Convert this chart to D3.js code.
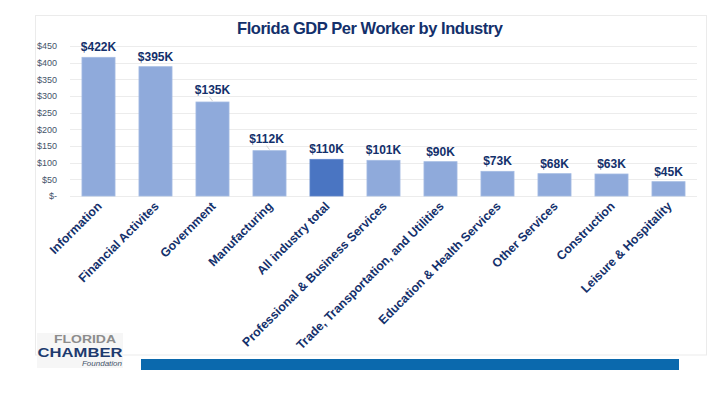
<!DOCTYPE html>
<html>
<head>
<meta charset="utf-8">
<script src="https://cdn.jsdelivr.net/npm/d3@7"></script>
<style>
  body { margin: 0; background: #fff; }
  svg { display: block; font-family: "Liberation Sans", Arial, sans-serif; }
</style>
</head>
<body>
<svg id="chart"></svg>
<script>
// chart data
var industries = ["Information", "Financial Activites", "Government", "Manufacturing",
                  "All industry total", "Professional & Business Services",
                  "Trade, Transportation, and Utilities", "Education & Health Services",
                  "Other Services", "Construction", "Leisure & Hospitality"];
var barValues = [416, 388, 282, 136, 110, 107, 103, 74, 67, 66, 43];
var valueLabels = ["$422K", "$395K", "$135K", "$112K", "$110K", "$101K",
                   "$90K", "$73K", "$68K", "$63K", "$45K"];
var yTicks = [0, 50, 100, 150, 200, 250, 300, 350, 400, 450];

var width = 726,
    height = 397,
    navy = "#13306b";

var svg = d3.select("#chart")
            .attr("width", width)
            .attr("height", height);

// outer frame of the chart
svg.append("rect")
   .attr("x", 35.5).attr("y", 15.5)
   .attr("width", 671).attr("height", 339.5)
   .attr("fill", "#fff")
   .attr("stroke", "#ebebeb");

// title
svg.append("text")
   .attr("x", 370).attr("y", 34)
   .attr("text-anchor", "middle")
   .attr("font-size", 16.5)
   .attr("font-weight", "bold")
   .attr("fill", navy)
   .attr("textLength", 266)
   .text("Florida GDP Per Worker by Industry");

var x = d3.scaleBand()
          .domain(industries)
          .range([70, 697])
          .paddingInner(0.42)
          .paddingOuter(0.21);

var y = d3.scaleLinear()
          .domain([0, 450])
          .range([196, 46]);

// gridlines
svg.append("g")
   .selectAll("line")
   .data(yTicks)
   .enter().append("line")
   .attr("x1", 70).attr("x2", 697)
   .attr("y1", function(d) { return Math.round(y(d)) + 0.5; })
   .attr("y2", function(d) { return Math.round(y(d)) + 0.5; })
   .attr("stroke", "#ececec");

// y axis labels
var yAxis = d3.axisLeft(y)
              .tickValues(yTicks)
              .tickSize(0)
              .tickPadding(0)
              .tickFormat(function(d) { return d === 0 ? "$-" : "$" + d; });

var yg = svg.append("g")
            .attr("transform", "translate(57,0)")
            .call(yAxis);
yg.select(".domain").remove();
yg.selectAll("text")
  .attr("font-family", "Liberation Sans, Arial, sans-serif")
  .attr("font-size", 9)
  .attr("fill", "#44546a");

// bars
svg.selectAll(".bar")
   .data(industries)
   .enter().append("rect")
   .attr("class", "bar")
   .attr("x", function(d) { return x(d); })
   .attr("width", x.bandwidth())
   .attr("y", function(d, i) { return y(barValues[i]); })
   .attr("height", function(d, i) { return y(0) - y(barValues[i]); })
   .attr("fill", function(d) { return d === "All industry total" ? "#4a75c2" : "#8faadb"; })
   .attr("stroke", function(d) { return d === "All industry total" ? "#5f85cb" : "#a4bbe3"; })
   .attr("stroke-width", 0.8);

// labels that sit a bit higher, with a small leader line
var lifted = ["Government", "Manufacturing"];

svg.selectAll(".leader")
   .data(industries.filter(function(d) { return lifted.indexOf(d) >= 0; }))
   .enter().append("line")
   .attr("class", "leader")
   .attr("x1", function(d) { return x(d) + x.bandwidth() / 2 - 3; })
   .attr("x2", function(d) { return x(d) + x.bandwidth() / 2; })
   .attr("y1", function(d) { return y(barValues[industries.indexOf(d)]) - 5; })
   .attr("y2", function(d) { return y(barValues[industries.indexOf(d)]) - 1; })
   .attr("stroke", "#c8c8c8")
   .attr("stroke-width", 0.8);

// value labels
svg.selectAll(".value")
   .data(industries)
   .enter().append("text")
   .attr("class", "value")
   .attr("x", function(d) {
     return x(d) + x.bandwidth() / 2 - (d === "Manufacturing" ? 3 : 0);
   })
   .attr("y", function(d, i) {
     return y(barValues[i]) - (lifted.indexOf(d) >= 0 ? 8 : 6);
   })
   .attr("text-anchor", "middle")
   .attr("font-size", 12)
   .attr("font-weight", "bold")
   .attr("fill", navy)
   .text(function(d, i) { return valueLabels[i]; });

// category labels, rotated
svg.selectAll(".cat")
   .data(industries)
   .enter().append("text")
   .attr("class", "cat")
   .attr("transform", function(d) {
     return "translate(" + (x(d) + x.bandwidth() / 2 + 4) + ",207) rotate(-45)";
   })
   .attr("text-anchor", "end")
   .attr("font-size", 12.3)
   .attr("font-weight", "bold")
   .attr("fill", navy)
   .text(function(d) { return d; });

// footer: logo and blue band
var logo = svg.append("g");
logo.append("rect")
    .attr("x", 37).attr("y", 333)
    .attr("width", 86).attr("height", 35)
    .attr("fill", "#f6f6f6");
logo.append("text")
    .attr("x", 85).attr("y", 343)
    .attr("text-anchor", "middle")
    .attr("font-size", 11)
    .attr("font-weight", "bold")
    .attr("fill", "#8c8c8c")
    .attr("textLength", 62)
    .attr("lengthAdjust", "spacingAndGlyphs")
    .text("FLORIDA");
logo.append("text")
    .attr("x", 80).attr("y", 357)
    .attr("text-anchor", "middle")
    .attr("font-size", 12.5)
    .attr("font-weight", "bold")
    .attr("fill", "#1d3a6e")
    .attr("textLength", 85)
    .attr("lengthAdjust", "spacingAndGlyphs")
    .text("CHAMBER");
logo.append("text")
    .attr("x", 122).attr("y", 366)
    .attr("text-anchor", "end")
    .attr("font-size", 8)
    .attr("font-style", "italic")
    .attr("fill", "#44546a")
    .text("Foundation");

svg.append("rect")
   .attr("x", 141).attr("y", 359)
   .attr("width", 538).attr("height", 11)
   .attr("fill", "#0b69ad");
</script>
</body>
</html>
